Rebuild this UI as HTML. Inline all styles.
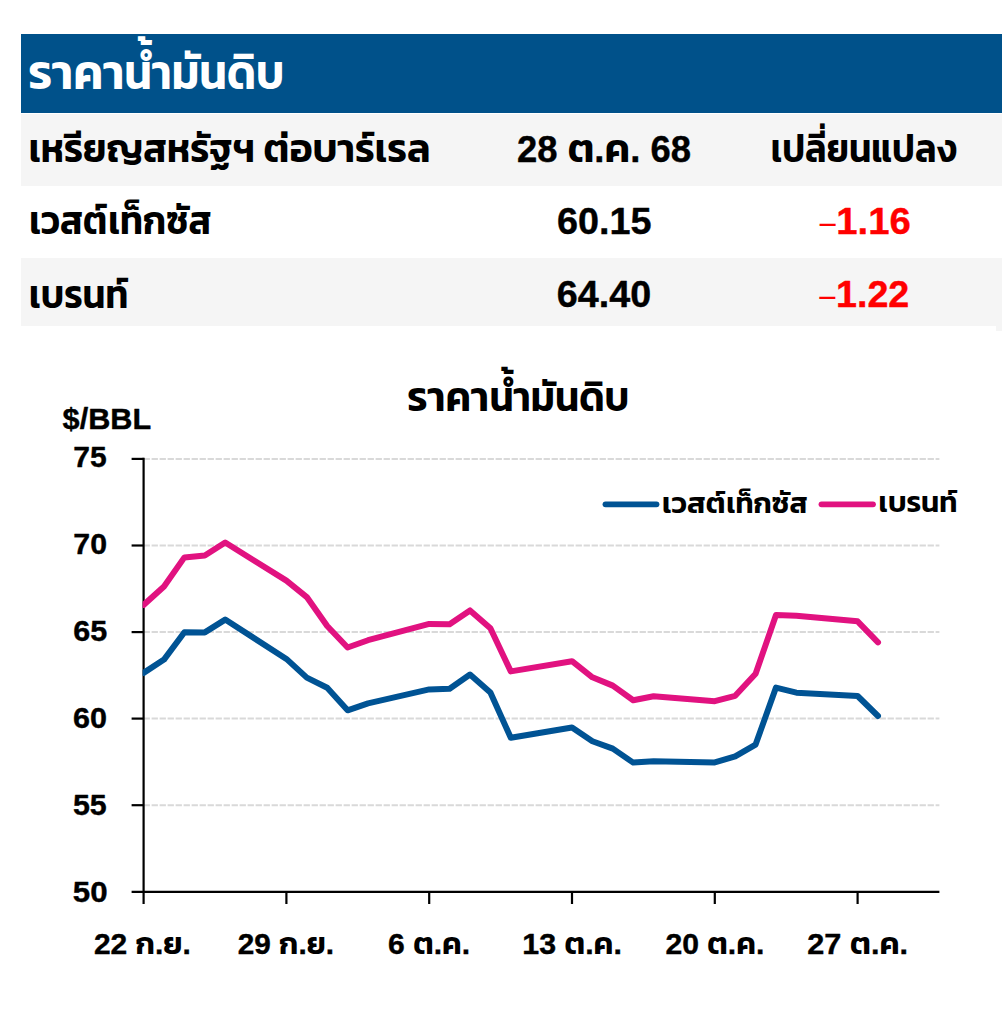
<!DOCTYPE html>
<html lang="th">
<head>
<meta charset="utf-8">
<title>ราคาน้ำมันดิบ</title>
<style>
html,body{margin:0;padding:0;background:#fff}
body{width:1002px;height:1026px;position:relative;overflow:hidden;font-family:"Liberation Sans","Kanit","Prompt","Noto Sans Thai","Loma",sans-serif}
.band{position:absolute;left:21px;right:0}
.head{top:34px;height:79px;background:#00518A}
.row1{top:114px;height:72px;background:#F5F5F5}
.row3{top:258px;height:68px;background:#F5F5F5}
.notch{position:absolute;left:996px;right:0;top:326px;height:5px;background:#F5F5F5}
svg{position:absolute;left:0;top:0;font-family:"Liberation Sans","Kanit","Prompt","Noto Sans Thai","Loma",sans-serif;font-weight:700}
svg text{stroke-linejoin:round;stroke-width:0}
svg .l{stroke-width:0.4}
svg .t{font-weight:600;stroke-width:0}
svg .thin{font-weight:400;stroke-width:0}
.grid line{stroke:#D9D9D9;stroke-width:2.0;stroke-dasharray:6.3 1.7}
.axis line{stroke:#000;stroke-width:2.2}
.series polyline{fill:none;stroke-width:6.0;stroke-linejoin:round;stroke-linecap:round}
.legend line{stroke-width:5.8;stroke-linecap:round}
</style>
</head>
<body>
<div class="band head"></div>
<div class="band row1"></div>
<div class="band row3"></div>
<div class="notch"></div>
<svg width="1002" height="1026" viewBox="0 0 1002 1026">
<g class="grid">
<line x1="143.6" x2="939.4" y1="458.9" y2="458.9"/>
<line x1="143.6" x2="939.4" y1="545.5" y2="545.5"/>
<line x1="143.6" x2="939.4" y1="632.1" y2="632.1"/>
<line x1="143.6" x2="939.4" y1="718.6" y2="718.6"/>
<line x1="143.6" x2="939.4" y1="805.2" y2="805.2"/>
</g>
<g class="axis">
<line x1="143.6" x2="143.6" y1="457.8" y2="904"/>
<line x1="131.6" x2="939.4" y1="891.8" y2="891.8"/>
<line x1="131.6" x2="143.6" y1="458.9" y2="458.9"/>
<line x1="131.6" x2="143.6" y1="545.5" y2="545.5"/>
<line x1="131.6" x2="143.6" y1="632.1" y2="632.1"/>
<line x1="131.6" x2="143.6" y1="718.6" y2="718.6"/>
<line x1="131.6" x2="143.6" y1="805.2" y2="805.2"/>
<line x1="286.4" x2="286.4" y1="891.8" y2="904"/>
<line x1="429.2" x2="429.2" y1="891.8" y2="904"/>
<line x1="572.0" x2="572.0" y1="891.8" y2="904"/>
<line x1="714.8" x2="714.8" y1="891.8" y2="904"/>
<line x1="857.6" x2="857.6" y1="891.8" y2="904"/>
</g>
<clipPath id="plot"><rect x="142.6" y="440" width="820" height="450.8"/></clipPath>
<g class="series" clip-path="url(#plot)">
<polyline stroke="#005394" points="143.6,672.9 164.0,659.6 184.4,632.2 204.8,632.4 225.2,619.6 286.4,658.9 306.8,677.6 327.2,687.8 347.6,710.3 368.0,703.4 429.2,689.4 449.6,688.7 470.0,674.5 490.4,692.5 510.8,737.7 572.0,727.5 592.4,741.2 612.8,748.6 633.2,762.6 653.6,761.2 714.8,762.4 735.2,756.4 755.6,744.6 776.0,687.6 796.4,692.7 857.6,696.0 878.0,716.0"/>
<polyline stroke="#E11280" points="143.6,604.9 164.0,586.5 184.4,557.4 204.8,555.5 225.2,542.5 286.4,580.6 306.8,597.1 327.2,626.0 347.6,647.5 368.0,640.2 429.2,623.9 449.6,624.3 470.0,610.4 490.4,628.3 510.8,671.4 572.0,661.2 592.4,677.3 612.8,685.6 633.2,700.3 653.6,696.3 714.8,701.2 735.2,695.8 755.6,673.8 776.0,614.9 796.4,615.8 857.6,621.3 878.0,642.4"/>
</g>
<g class="legend"><line x1="605.5" x2="656.5" y1="504.3" y2="504.3" stroke="#005394"/><line x1="821.5" x2="873" y1="504.3" y2="504.3" stroke="#E11280"/></g>
<!-- table -->
<text fill="#fff" stroke="#fff"><tspan class="t" id="ta" x="28.2" y="88.8" textLength="96.3" lengthAdjust="spacingAndGlyphs" font-size="48">ราคา</tspan><tspan class="t" id="tb" x="124.3" y="88.8" textLength="159.9" lengthAdjust="spacingAndGlyphs" font-size="48">น้ำมันดิบ</tspan></text>
<text fill="#000" stroke="#000"><tspan class="t" id="h1a" x="28.7" y="161.6" textLength="226.2" lengthAdjust="spacingAndGlyphs" font-size="40">เหรียญสหรัฐฯ</tspan> <tspan class="t" id="h1b" x="263.6" y="161.6" textLength="166.9" lengthAdjust="spacingAndGlyphs" font-size="40">ต่อบาร์เรล</tspan></text>
<text fill="#000" stroke="#000"><tspan class="l" id="h2" x="517.1" y="161.7" textLength="173.8" lengthAdjust="spacingAndGlyphs" font-size="36">28 <tspan class="t" font-size="40">ต</tspan>.<tspan class="t" font-size="40">ค</tspan>. 68</tspan></text>
<text fill="#000" stroke="#000"><tspan class="t" id="h3" x="770.8" y="161.9" textLength="186.1" lengthAdjust="spacingAndGlyphs" font-size="40">เปลี่ยนแปลง</tspan></text>
<text fill="#000" stroke="#000"><tspan class="t" id="r1a" x="29.3" y="233.5" textLength="78.0" lengthAdjust="spacingAndGlyphs" font-size="40">เวสต์</tspan><tspan class="t" id="r1b" x="108.3" y="233.5" textLength="103.4" lengthAdjust="spacingAndGlyphs" font-size="40">เท็กซัส</tspan></text>
<text fill="#000" stroke="#000"><tspan class="l" id="r1v" x="557.0" y="234" textLength="94.5" lengthAdjust="spacingAndGlyphs" font-size="36.5">60.15</tspan></text>
<text fill="#FF0000" stroke="#FF0000"><tspan class="thin" id="r1m" x="818.0" y="236.1" textLength="19.3" lengthAdjust="spacingAndGlyphs" font-size="33.6">−</tspan><tspan class="l" id="r1c" x="836.3" y="233.9" textLength="74.4" lengthAdjust="spacingAndGlyphs" font-size="36.5">1.16</tspan></text>
<text fill="#000" stroke="#000"><tspan class="t" id="r2" x="29.1" y="307.6" textLength="99.3" lengthAdjust="spacingAndGlyphs" font-size="40">เบรนท์</tspan></text>
<text fill="#000" stroke="#000"><tspan class="l" id="r2v" x="556.8" y="306.9" textLength="94.3" lengthAdjust="spacingAndGlyphs" font-size="36.5">64.40</tspan></text>
<text fill="#FF0000" stroke="#FF0000"><tspan class="thin" id="r2m" x="817.8" y="309.1" textLength="19.2" lengthAdjust="spacingAndGlyphs" font-size="33.6">−</tspan><tspan class="l" id="r2c" x="836.0" y="306.9" textLength="73.3" lengthAdjust="spacingAndGlyphs" font-size="36.5">1.22</tspan></text>
<!-- chart -->
<text fill="#000" stroke="#000"><tspan class="t" id="ca" x="407.2" y="411.1" textLength="81.8" lengthAdjust="spacingAndGlyphs" font-size="41.4">ราคา</tspan><tspan class="t" id="cb" x="489.4" y="411.1" textLength="139.9" lengthAdjust="spacingAndGlyphs" font-size="41.4">น้ำมันดิบ</tspan></text>
<text fill="#000" stroke="#000"><tspan class="l" id="unit" x="62.6" y="428.7" textLength="88.5" lengthAdjust="spacingAndGlyphs" font-size="29.5">$/BBL</tspan></text>
<text fill="#000" stroke="#000"><tspan class="l" id="y75" x="106.7" y="466.9" textLength="33.4" lengthAdjust="spacingAndGlyphs" text-anchor="end" font-size="30">75</tspan></text>
<text fill="#000" stroke="#000"><tspan class="l" id="y70" x="107.0" y="553.8" textLength="33.7" lengthAdjust="spacingAndGlyphs" text-anchor="end" font-size="30">70</tspan></text>
<text fill="#000" stroke="#000"><tspan class="l" id="y65" x="107.3" y="640.8" textLength="34.0" lengthAdjust="spacingAndGlyphs" text-anchor="end" font-size="30">65</tspan></text>
<text fill="#000" stroke="#000"><tspan class="l" id="y60" x="107.1" y="727.9" textLength="34.0" lengthAdjust="spacingAndGlyphs" text-anchor="end" font-size="30">60</tspan></text>
<text fill="#000" stroke="#000"><tspan class="l" id="y55" x="106.7" y="814.9" textLength="33.8" lengthAdjust="spacingAndGlyphs" text-anchor="end" font-size="30">55</tspan></text>
<text fill="#000" stroke="#000"><tspan class="l" id="y50" x="107.6" y="901.9" textLength="34.8" lengthAdjust="spacingAndGlyphs" text-anchor="end" font-size="30">50</tspan></text>
<text fill="#000" stroke="#000"><tspan class="l" id="x0" x="142.4" y="953.5" textLength="97.0" lengthAdjust="spacingAndGlyphs" text-anchor="middle" font-size="30">22 <tspan class="t" font-size="31">ก</tspan>.<tspan class="t" font-size="31">ย</tspan>.</tspan></text>
<text fill="#000" stroke="#000"><tspan class="l" id="x1" x="285.9" y="953.5" textLength="96.4" lengthAdjust="spacingAndGlyphs" text-anchor="middle" font-size="30">29 <tspan class="t" font-size="31">ก</tspan>.<tspan class="t" font-size="31">ย</tspan>.</tspan></text>
<text fill="#000" stroke="#000"><tspan class="l" id="x2" x="429.1" y="953.5" textLength="82.0" lengthAdjust="spacingAndGlyphs" text-anchor="middle" font-size="30">6 <tspan class="t" font-size="31">ต</tspan>.<tspan class="t" font-size="31">ค</tspan>.</tspan></text>
<text fill="#000" stroke="#000"><tspan class="l" id="x3" x="572.1" y="953.5" textLength="99.7" lengthAdjust="spacingAndGlyphs" text-anchor="middle" font-size="30">13 <tspan class="t" font-size="31">ต</tspan>.<tspan class="t" font-size="31">ค</tspan>.</tspan></text>
<text fill="#000" stroke="#000"><tspan class="l" id="x4" x="714.9" y="953.5" textLength="99.0" lengthAdjust="spacingAndGlyphs" text-anchor="middle" font-size="30">20 <tspan class="t" font-size="31">ต</tspan>.<tspan class="t" font-size="31">ค</tspan>.</tspan></text>
<text fill="#000" stroke="#000"><tspan class="l" id="x5" x="857.7" y="953.5" textLength="100.8" lengthAdjust="spacingAndGlyphs" text-anchor="middle" font-size="30">27 <tspan class="t" font-size="31">ต</tspan>.<tspan class="t" font-size="31">ค</tspan>.</tspan></text>
<text fill="#000" stroke="#000"><tspan class="t" id="lga" x="662.1" y="512.5" textLength="63.3" lengthAdjust="spacingAndGlyphs" font-size="29.5">เวสต์</tspan><tspan class="t" id="lgb" x="726.2" y="512.5" textLength="81.4" lengthAdjust="spacingAndGlyphs" font-size="29.5">เท็กซัส</tspan></text>
<text fill="#000" stroke="#000"><tspan class="t" id="lg2" x="878.6" y="512.4" textLength="78.9" lengthAdjust="spacingAndGlyphs" font-size="29.5">เบรนท์</tspan></text>
</svg>
</body>
</html>
